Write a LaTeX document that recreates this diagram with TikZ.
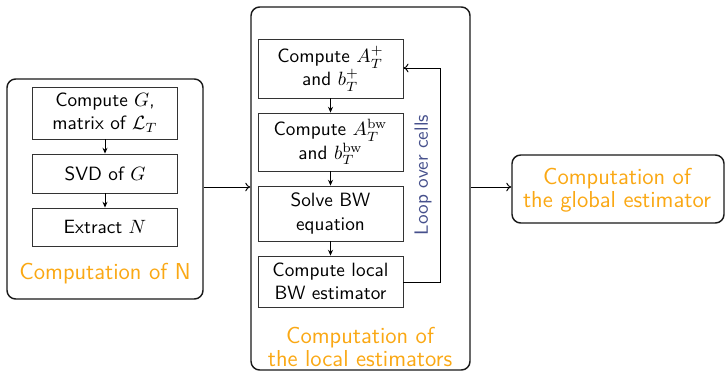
\documentclass[tikz,border=0pt]{standalone}
\usetikzlibrary{arrows.meta}
\definecolor{orng}{RGB}{250,168,20}
\definecolor{loopc}{RGB}{70,80,140}
\begin{document}
\begin{tikzpicture}[x=0.52pt,y=-0.52pt,font=\sffamily,
  outer/.style={draw=black!90,line width=0.75pt,rounded corners=4.5pt,inner sep=0pt},
  stepbox/.style={draw=black!80,line width=0.45pt,minimum width={145*0.52pt},inner sep=0pt,align=center,text width={143*0.52pt}},
  small/.style={-{Stealth[length=3pt,width=2.6pt]},line width=0.45pt},
  big/.style={-{To[length=2.6pt,width=4.5pt]},line width=0.5pt},
  ttl/.style={text=orng,font=\sffamily\fontsize{12}{12}\selectfont,align=center}]
\useasboundingbox (0,0) rectangle (725,371);
% outer boxes
\node[outer,minimum width={196*0.52pt},minimum height={220*0.52pt}] (L) at (105,189) {};
\node[outer,minimum width={219*0.52pt},minimum height={363*0.52pt}] (M) at (360.5,188.5) {};
\node[outer,minimum width={212*0.52pt},minimum height={68*0.52pt}] (R) at (618,189) {};
% left
\node[stepbox,minimum height={52*0.52pt}] (l1) at (105,113) {Compute $G$,\\matrix of $\mathcal{L}_T$};
\node[stepbox,minimum height={39*0.52pt}] (l2) at (105,173.5) {SVD of $G$};
\node[stepbox,minimum height={38*0.52pt}] (l3) at (105,227) {Extract $N$};
\node[ttl] (lt) at (105,274) {Computation of N};
\draw[small] (l1) -- (l2);
\draw[small] (l2) -- (l3);
% middle
\node[stepbox,minimum height={59*0.52pt}] (m1) at (330.5,68.5) {Compute $A_T^+$\\and $b_T^+$};
\node[stepbox,minimum height={58*0.52pt}] (m2) at (330.5,142) {Compute $A_T^{\mathrm{bw}}$\\and $b_T^{\mathrm{bw}}$};
\node[stepbox,minimum height={55*0.52pt}] (m3) at (330.5,213.5) {Solve BW\\equation};
\node[stepbox,minimum height={51*0.52pt}] (m4) at (330.5,281.5) {Compute local\\BW estimator};
\draw[small] (m1) -- (m2);
\draw[small] (m2) -- (m3);
\draw[small] (m3) -- (m4);
\coordinate (c1) at (440,282);
\coordinate (c2) at (440,68);
\draw[big] (m4.east |- c1) -- (c1) -- (c2) -- (m1.east |- c2);
\node[text=loopc,rotate=90] (lp) at (423,175) {Loop over cells};
\node[ttl] (mt) at (360,347) {Computation of\\the local estimators};
% right
\node[ttl] (rt) at (617,190) {Computation of\\the global estimator};
% connections
\draw[big] (L.east |- 0,187) -- (M.west |- 0,187);
\draw[big] (M.east |- 0,187) -- (R.west |- 0,187);
\end{tikzpicture}
\end{document}
